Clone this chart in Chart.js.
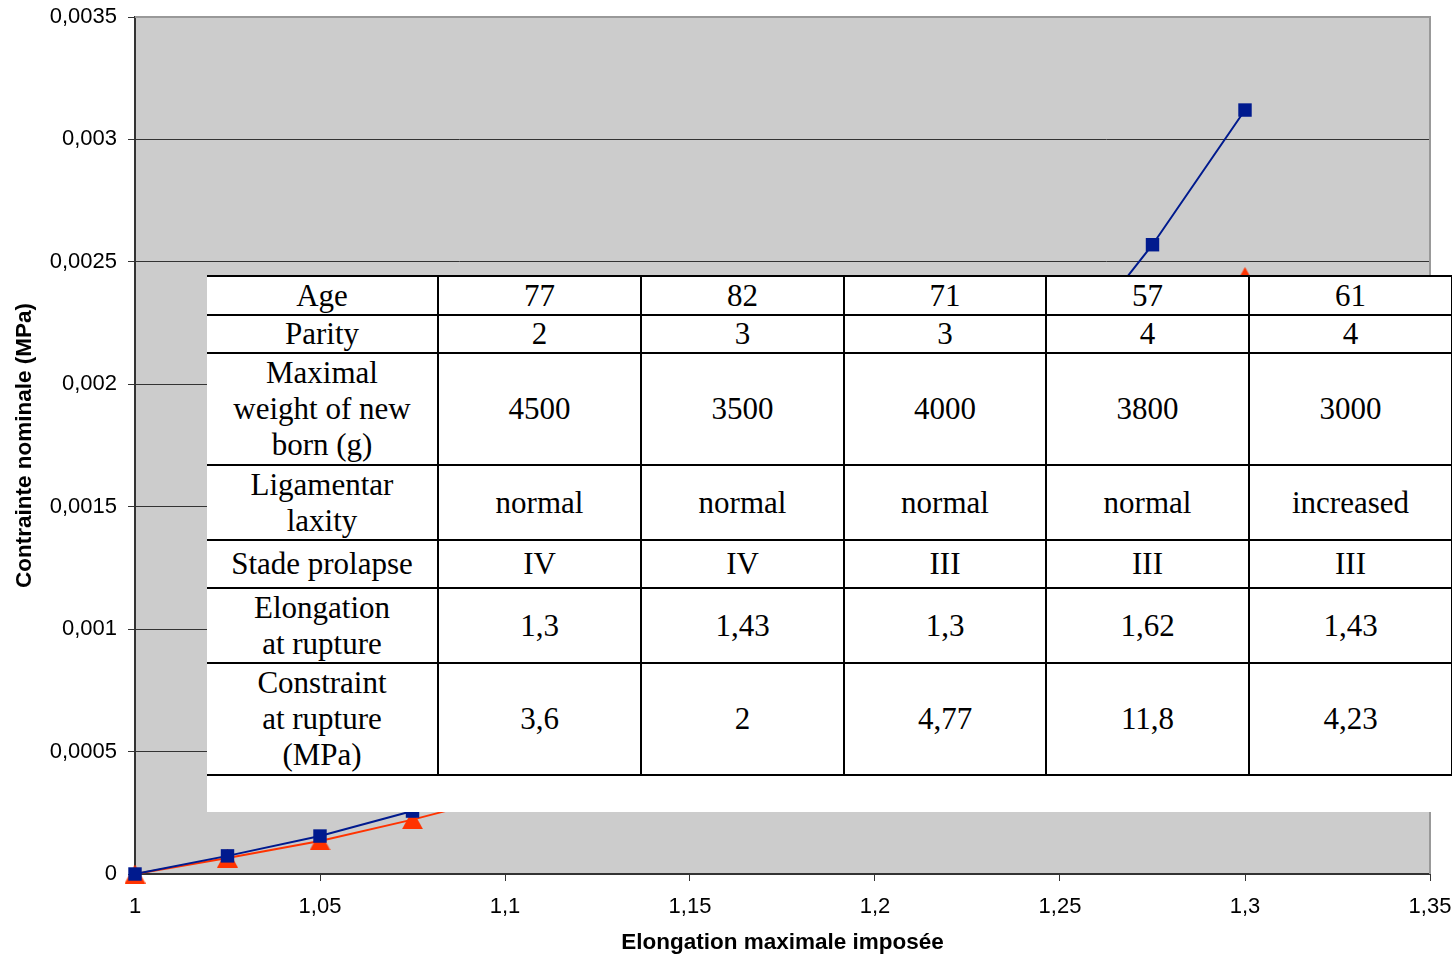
<!DOCTYPE html>
<html>
<head>
<meta charset="utf-8">
<script src="https://cdn.jsdelivr.net/npm/chart.js@4/dist/chart.umd.min.js"></script>
<style>
    body { margin: 0; background: #fff; }
    #wrap { position: relative; width: 1452px; height: 956px; }
    #box {
        position: absolute; left: 207px; top: 275px; width: 1245px; height: 537px;
        background: #fff;
    }
    #box table {
        border-collapse: collapse; table-layout: fixed; width: 1245px;
        font-family: "Liberation Serif", "Times New Roman", serif; font-size: 31px; line-height: 36px;
        color: #000;
    }
    #box td { border: 2px solid #000; text-align: center; vertical-align: middle; padding: 0; }
    #box td:first-child { border-left: none; }
</style>
</head>
<body>
<div id="wrap">
    <canvas id="stressChart"></canvas>
    <div id="box"><table id="info"></table></div>
</div>
<script>
const elongation = [1, 1.025, 1.05, 1.075, 1.1, 1.125, 1.15, 1.175, 1.2, 1.225, 1.25, 1.275, 1.3];
const stressBlue = [0, 0.000074, 0.000155, 0.000257, 0.00038, 0.00052, 0.00069, 0.00089, 0.00114, 0.00152, 0.00209, 0.00257, 0.00312];
const stressRed = [0, 0.000065, 0.000135, 0.000222, 0.00032, 0.00044, 0.00058, 0.00075, 0.00096, 0.00122, 0.00156, 0.00196, 0.00244];

const xTicks = [1, 1.05, 1.1, 1.15, 1.2, 1.25, 1.3, 1.35];
const xTickLabels = ['1', '1,05', '1,1', '1,15', '1,2', '1,25', '1,3', '1,35'];
const yTicks = [0, 0.0005, 0.001, 0.0015, 0.002, 0.0025, 0.003, 0.0035];
const yTickLabels = ['0', '0,0005', '0,001', '0,0015', '0,002', '0,0025', '0,003', '0,0035'];

const rowHeads = ['Age', 'Parity', 'Maximal<br>weight of new<br>born (g)', 'Ligamentar<br>laxity', 'Stade prolapse', 'Elongation<br>at rupture', 'Constraint<br>at rupture<br>(MPa)'];
const rowHeights = [39, 37, 112, 75, 48, 75, 112];
const age = ['77', '82', '71', '57', '61'];
const parity = ['2', '3', '3', '4', '4'];
const weight = ['4500', '3500', '4000', '3800', '3000'];
const laxity = ['normal', 'normal', 'normal', 'normal', 'increased'];
const stage = ['IV', 'IV', 'III', 'III', 'III'];
const ruptureElong = ['1,3', '1,43', '1,3', '1,62', '1,43'];
const ruptureStress = ['3,6', '2', '4,77', '11,8', '4,23'];

// table overlay
const rows = [age, parity, weight, laxity, stage, ruptureElong, ruptureStress];
const colWidths = [231, 203, 203, 202, 203, 203];
let html = '<colgroup>' + colWidths.map(w => `<col style="width:${w}px">`).join('') + '</colgroup>';
rows.forEach((r, i) => {
    html += `<tr style="height:${rowHeights[i]}px"><td>${rowHeads[i]}</td>` + r.map(v => `<td>${v}</td>`).join('') + '</tr>';
});
document.getElementById('info').innerHTML = html;

// excel-like triangle, centred in its box
const tri = document.createElement('canvas');
tri.width = 21;
tri.height = 19;
const tctx = tri.getContext('2d');
tctx.fillStyle = '#ff3300';
tctx.beginPath();
tctx.moveTo(10.5, 0);
tctx.lineTo(21, 19);
tctx.lineTo(0, 19);
tctx.closePath();
tctx.fill();

const plotBg = {
    id: 'plotBg',
    beforeDraw(chart) {
        const { ctx, chartArea: a } = chart;
        ctx.save();
        ctx.fillStyle = '#cccccc';
        ctx.fillRect(a.left, a.top, a.right - a.left, a.bottom - a.top);
        ctx.restore();
    },
    beforeDatasetsDraw(chart) {
        const { ctx, chartArea: a } = chart;
        ctx.save();
        ctx.strokeStyle = '#999999';
        ctx.lineWidth = 2;
        ctx.beginPath();
        ctx.moveTo(a.left, a.top);
        ctx.lineTo(a.right, a.top);
        ctx.lineTo(a.right, a.bottom);
        ctx.stroke();
        ctx.restore();
    },
};

const tickFont = { family: 'Liberation Sans, Arial, sans-serif', size: 22 };
const titleFont = { family: 'Liberation Sans, Arial, sans-serif', size: 22.5, weight: 'bold' };

new Chart(document.getElementById('stressChart'), {
    type: 'line',
    data: {
        datasets: [
            {
                label: 'Serie 1',
                data: elongation.map((x, i) => ({ x, y: stressBlue[i] })),
                borderColor: '#001a8e',
                backgroundColor: '#001a8e',
                borderWidth: 2,
                pointStyle: 'rect',
                pointRadius: 9.5,
                pointBorderWidth: 0,
                tension: 0,
                clip: false,
            },
            {
                label: 'Serie 2',
                data: elongation.map((x, i) => ({ x, y: stressRed[i] })),
                borderColor: '#ff3300',
                backgroundColor: '#ff3300',
                borderWidth: 2,
                pointStyle: tri,
                pointRadius: 11,
                pointBorderWidth: 0,
                tension: 0,
                clip: false,
            },
        ],
    },
    options: {
        responsive: true,
        maintainAspectRatio: false,
        animation: false,
        layout: { padding: { top: 17, right: 22, left: 0, bottom: 0 } },
        plugins: {
            legend: { display: false },
            tooltip: { enabled: false },
        },
        scales: {
            x: {
                type: 'linear',
                min: 1,
                max: 1.35,
                afterBuildTicks: s => { s.ticks = xTicks.map(value => ({ value })); },
                afterFit: s => { s.height = 82; s.paddingLeft = 0; s.paddingRight = 0; },
                ticks: {
                    font: tickFont,
                    color: '#000',
                    padding: 13,
                    maxRotation: 0,
                    callback: (v, i) => xTickLabels[i],
                },
                grid: { drawOnChartArea: false, tickLength: 7, color: '#333', tickWidth: 1 },
                border: { color: '#333', width: 2 },
                title: {
                    display: true,
                    text: 'Elongation maximale imposée',
                    font: titleFont,
                    color: '#000',
                    padding: { top: 0, bottom: 0 },
                },
            },
            y: {
                min: 0,
                max: 0.0035,
                afterBuildTicks: s => { s.ticks = yTicks.map(value => ({ value })); },
                afterFit: s => { s.width = 135; s.paddingTop = 0; s.paddingBottom = 0; },
                ticks: {
                    font: tickFont,
                    color: '#000',
                    padding: 11,
                    callback: (v, i) => yTickLabels[i],
                },
                grid: {
                    tickLength: 7,
                    color: c => (c.index === yTicks.length - 1 || c.index === 0 ? 'rgba(0,0,0,0)' : '#333'),
                    tickColor: '#333',
                    lineWidth: 1,
                },
                border: { color: '#333', width: 2 },
                title: {
                    display: true,
                    text: 'Contrainte nominale (MPa)',
                    font: titleFont,
                    color: '#000',
                    padding: { top: 11, bottom: 0 },
                },
            },
        },
    },
    plugins: [plotBg],
});
</script>
</body>
</html>
